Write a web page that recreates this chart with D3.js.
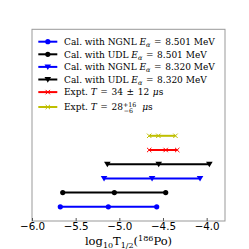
<!DOCTYPE html>
<html><head><meta charset="utf-8">
<script src="https://cdn.jsdelivr.net/npm/d3@7"></script>
<style>body{margin:0;background:#fff}svg{display:block}</style>
</head><body><div id="c"></div>
<script>
// ---- data ----
const seriesNames = ["NGNL 8.501","UDL 8.501","NGNL 8.320","UDL 8.320","Expt 34","Expt 28"];
const seriesColors = ["#0000ff","#000000","#0000ff","#000000","#ff0000","#bfbf00"];
const seriesMarkers = ["circle","circle","triangle","triangle","x","x"];
const rowIndex = [1,2,3,4,5,6];
const lowValues = [-5.676,-5.648,-5.175,-5.137,-4.658,-4.658];
const midValues = [-5.126,-5.057,-4.625,-4.549,-4.469,-4.553];
const highValues = [-4.572,-4.469,-4.076,-3.969,-4.337,-4.357];
const xTicks = [-6.0,-5.5,-5.0,-4.5,-4.0];
const legendModels = ["NGNL","UDL","NGNL","UDL"];
const legendEnergies = ["8.501","8.501","8.320","8.320"];

const W=249,H=249;
const svg=d3.select("#c").append("svg").attr("width",W).attr("height",H);
const x=d3.scaleLinear().domain([-6.0,-3.79]).range([32,225]);
const y=d3.scaleLinear().domain([0,13.5]).range([221,29.3]);

// frame
svg.append("rect").attr("x",x.range()[0]).attr("y",y.range()[1])
  .attr("width",x.range()[1]-x.range()[0]).attr("height",y.range()[0]-y.range()[1])
  .attr("fill","none").attr("stroke","#999").attr("stroke-width",1);

// x axis
const ax=svg.append("g").attr("transform",`translate(0,${y.range()[0]})`)
  .call(d3.axisBottom(x).tickValues(xTicks).tickSizeInner(-3).tickSizeOuter(0).tickPadding(2)
    .tickFormat(d=>d3.format(".1f")(d).replace("-","\u2212")));
ax.select(".domain").remove();
ax.selectAll(".tick line").attr("stroke","#555");
ax.selectAll(".tick text").attr("font-family","DejaVu Sans").attr("font-size","10.3px").attr("fill","#000");

// x label
const xl=svg.append("text").attr("x",(x.range()[0]+x.range()[1])/2).attr("y",245)
  .attr("text-anchor","middle").attr("font-family","DejaVu Serif").attr("font-size","11.5px").attr("fill","#000");
xl.append("tspan").text("log");
xl.append("tspan").attr("dy",2.5).attr("font-size","8px").text("10");
xl.append("tspan").attr("dy",-2.5).text("T");
xl.append("tspan").attr("dy",2.5).attr("font-size","8px").text("1/2");
xl.append("tspan").attr("dy",-2.5).text("(");
xl.append("tspan").attr("dy",-4).attr("font-size","8px").text("186");
xl.append("tspan").attr("dy",4).text("Po)");

function drawMarker(g,type,cx,cy,color){
  if(type==="circle"){
    g.append("circle").attr("cx",cx).attr("cy",cy).attr("r",2.6).attr("fill",color);
  } else if(type==="triangle"){
    const s=3.3;
    g.append("path").attr("d",`M${cx-s},${cy-s*0.75}L${cx+s},${cy-s*0.75}L${cx},${cy+s*0.95}Z`).attr("fill",color);
  } else {
    const s=2.2;
    g.append("path").attr("d",`M${cx-s},${cy-s}L${cx+s},${cy+s}M${cx-s},${cy+s}L${cx+s},${cy-s}`)
      .attr("stroke",color).attr("stroke-width",1).attr("fill","none");
  }
}

// bars
const plot=svg.append("g");
seriesNames.forEach((n,i)=>{
  const yy=y(rowIndex[i]);
  plot.append("line").attr("x1",x(lowValues[i])).attr("x2",x(highValues[i]))
    .attr("y1",yy).attr("y2",yy).attr("stroke",seriesColors[i]).attr("stroke-width",2);
  [lowValues[i],midValues[i],highValues[i]].forEach(v=>drawMarker(plot,seriesMarkers[i],x(v),yy,seriesColors[i]));
});

// legend
const fs=9, gap=3.6;
const lg=svg.append("g").attr("font-family","DejaVu Serif").attr("font-size",fs+"px").attr("fill","#000");
const legYs=[41.7,54.3,66.9,79.5,92.1,107];
seriesNames.forEach((n,i)=>{
  const yy=legYs[i];
  lg.append("line").attr("x1",38.3).attr("x2",57.3).attr("y1",yy).attr("y2",yy)
    .attr("stroke",seriesColors[i]).attr("stroke-width",2);
  drawMarker(lg,seriesMarkers[i],47.8,yy,seriesColors[i]);
  const t=lg.append("text").attr("x",64).attr("y",yy+3.3);
  if(i<4){
    t.append("tspan").text("Cal. with "+legendModels[i]+" ");
    t.append("tspan").attr("font-style","italic").text("E");
    t.append("tspan").attr("font-style","italic").attr("font-size","6.5px").attr("dy",2).text("\u03b1");
    t.append("tspan").attr("dy",-2).attr("dx",gap).text("=");
    t.append("tspan").attr("dx",gap).text(legendEnergies[i]+" MeV");
  } else if(i===4){
    t.append("tspan").text("Expt. ");
    t.append("tspan").attr("font-style","italic").text("T");
    t.append("tspan").attr("dx",gap).text("=");
    t.append("tspan").attr("dx",gap).text("34");
    t.append("tspan").attr("dx",gap).text("\u00b1");
    t.append("tspan").attr("dx",gap).text("12");
    t.append("tspan").attr("dx",gap).attr("font-style","italic").text("\u03bc");
    t.append("tspan").text("s");
  } else {
    t.append("tspan").text("Expt. ");
    t.append("tspan").attr("font-style","italic").text("T");
    t.append("tspan").attr("dx",gap).text("=");
    t.append("tspan").attr("dx",gap).text("28");
    t.append("tspan").attr("font-size","6.3px").attr("dy",-3.4).text("+16");
    t.append("tspan").attr("font-size","6.3px").attr("dx",-12.5).attr("dy",6).text("\u22126");
    t.append("tspan").attr("dy",-2.6).attr("dx",gap+5.5).attr("font-style","italic").text("\u03bc");
    t.append("tspan").text("s");
  }
});
</script></body></html>
